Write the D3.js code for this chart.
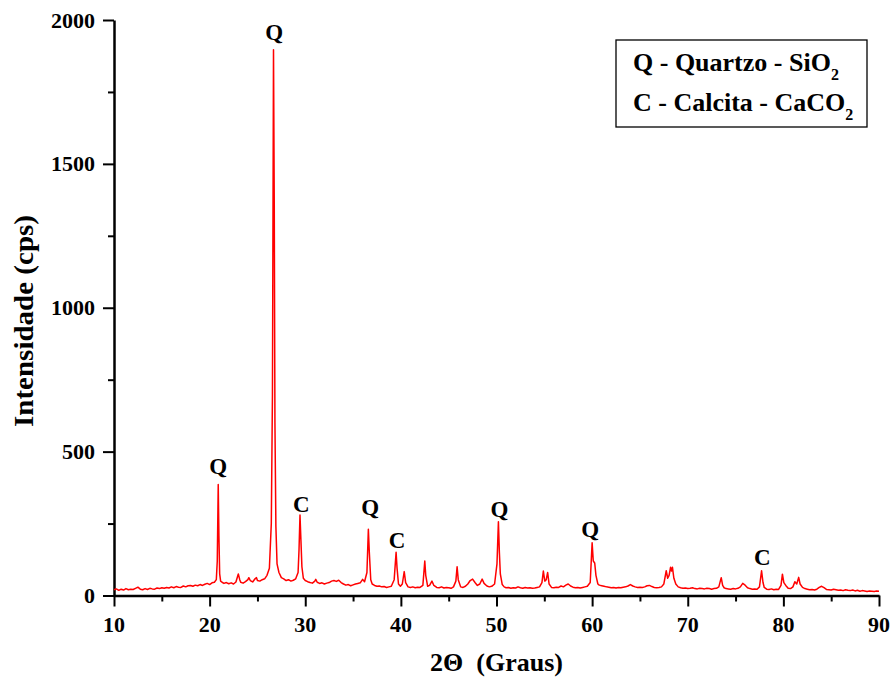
<!DOCTYPE html>
<html>
<head>
<meta charset="utf-8">
<script src="https://cdn.jsdelivr.net/npm/d3@7"></script>
</head>
<body style="margin:0">
<script>
// 2theta / intensity pairs
var pattern = [
 [10.00,20],[10.25,23],[10.5,18],[10.75,22],[11.0,19],[11.25,24],[11.5,20],[11.75,22],[12.0,21],[12.25,25],
 [12.5,29],[12.75,22],[13.0,20],[13.25,24],[13.5,21],[13.75,25],[14.0,23],[14.25,22],[14.5,26],[14.75,24],
 [15.0,27],[15.25,25],[15.5,28],[15.75,26],[16.0,30],[16.25,27],[16.5,31],[16.75,29],[17.0,28],[17.25,33],
 [17.5,30],[17.75,34],[18.0,35],[18.25,32],[18.5,36],[18.75,34],[19.0,38],[19.25,35],[19.5,39],[19.75,42],
 [20.0,38],[20.25,44],[20.5,46],[20.7,55],[20.8,120],[20.9,386],[20.97,210],[21.05,75],[21.15,50],[21.3,46],
 [21.5,42],[21.75,45],[22.0,41],[22.25,44],[22.5,40],[22.75,47],[23.0,75],[23.15,55],[23.25,46],[23.5,43],
 [23.75,48],[24.0,55],[24.1,62],[24.25,52],[24.5,47],[24.75,58],[24.9,62],[25.0,52],[25.25,50],[25.5,55],
 [25.75,58],[26.0,70],[26.25,95],[26.45,250],[26.57,700],[26.68,1897],[26.76,1350],[26.83,600],[26.93,240],[27.05,110],
 [27.25,80],[27.5,62],[27.75,58],[28.0,52],[28.25,55],[28.5,50],[28.75,53],[29.0,58],[29.25,80],[29.35,160],
 [29.45,280],[29.55,190],[29.65,100],[29.8,60],[30.0,52],[30.25,48],[30.5,45],[30.75,43],[31.0,50],[31.1,56],
 [31.25,46],[31.5,42],[31.75,44],[32.0,40],[32.25,43],[32.5,45],[32.75,50],[33.0,52],[33.25,49],[33.5,53],
 [33.75,45],[34.0,40],[34.25,36],[34.5,38],[34.75,34],[35.0,37],[35.25,40],[35.5,42],[35.75,44],[36.0,56],
 [36.2,48],[36.45,80],[36.6,230],[36.7,150],[36.85,55],[37.0,40],[37.25,35],[37.5,32],[37.75,33],[38.0,30],
 [38.25,31],[38.5,28],[38.75,30],[39.0,32],[39.3,55],[39.5,150],[39.6,95],[39.75,40],[39.95,32],[40.15,40],
 [40.35,83],[40.5,45],[40.75,30],[41.0,28],[41.25,30],[41.5,27],[41.75,29],[42.0,28],[42.3,35],[42.5,120],
 [42.6,70],[42.8,32],[43.0,35],[43.25,50],[43.45,35],[43.75,28],[44.0,27],[44.25,30],[44.5,26],[44.75,28],
 [45.0,27],[45.25,25],[45.5,30],[45.75,50],[45.88,100],[46.0,55],[46.25,30],[46.5,28],[46.75,32],[47.0,40],
 [47.25,52],[47.5,57],[47.75,45],[48.0,35],[48.25,40],[48.5,57],[48.7,42],[49.0,33],[49.25,30],[49.5,32],
 [49.8,40],[50.05,110],[50.2,256],[50.3,150],[50.4,75],[50.6,38],[50.8,30],[51.0,27],[51.25,28],[51.5,25],
 [51.75,27],[52.0,26],[52.25,30],[52.5,27],[52.75,25],[53.0,28],[53.25,26],[53.5,27],[53.75,25],[54.0,26],
 [54.25,28],[54.5,30],[54.75,45],[54.9,85],[55.05,50],[55.2,55],[55.35,80],[55.5,40],[55.75,28],[56.0,27],
 [56.25,29],[56.5,28],[56.75,33],[57.0,30],[57.25,36],[57.5,40],[57.75,33],[58.0,29],[58.25,27],[58.5,28],
 [58.75,26],[59.0,28],[59.25,30],[59.5,32],[59.8,45],[60.0,183],[60.12,120],[60.27,113],[60.4,70],[60.6,40],
 [60.75,36],[61.0,34],[61.25,32],[61.5,30],[61.75,29],[62.0,27],[62.25,28],[62.5,26],[62.75,28],[63.0,27],
 [63.25,29],[63.5,30],[63.75,33],[64.0,38],[64.25,33],[64.5,30],[64.75,28],[65.0,29],[65.25,28],[65.5,30],
 [65.75,34],[66.0,35],[66.25,31],[66.5,28],[66.75,27],[67.0,28],[67.25,30],[67.5,40],[67.75,86],[67.9,60],
 [68.05,70],[68.2,98],[68.3,85],[68.4,98],[68.55,60],[68.75,40],[69.0,30],[69.25,27],[69.5,25],[69.75,26],
 [70.0,24],[70.25,25],[70.5,27],[70.75,24],[71.0,23],[71.25,25],[71.5,24],[71.75,23],[72.0,25],[72.25,24],
 [72.5,22],[72.75,24],[73.0,25],[73.25,30],[73.5,62],[73.65,35],[73.8,27],[74.0,24],[74.25,23],[74.5,22],
 [74.75,24],[75.0,23],[75.25,25],[75.5,30],[75.75,42],[76.0,36],[76.25,27],[76.5,24],[76.75,22],[77.0,23],
 [77.25,22],[77.5,30],[77.72,86],[77.87,45],[78.0,28],[78.25,22],[78.5,21],[78.75,23],[79.0,20],[79.25,22],
 [79.5,21],[79.75,35],[79.9,74],[80.05,45],[80.25,35],[80.5,25],[80.75,24],[81.0,30],[81.2,48],[81.4,40],
 [81.6,63],[81.75,40],[82.0,28],[82.25,24],[82.5,22],[82.75,20],[83.0,21],[83.25,19],[83.5,22],[83.75,28],
 [84.0,32],[84.25,27],[84.5,21],[84.75,20],[85.0,19],[85.25,22],[85.5,20],[85.75,18],[86.0,19],[86.25,17],
 [86.5,20],[86.75,18],[87.0,17],[87.25,19],[87.5,16],[87.75,18],[88.0,15],[88.25,17],[88.5,16],[88.75,14],
 [89.0,16],[89.25,15],[89.5,14],[89.75,16],[90.0,15]
];

// phase labels above the peaks
var labelTheta = [20.9, 26.75, 29.6, 36.8, 39.6, 50.3, 59.8, 77.8];
var labelText  = ["Q", "Q", "C", "Q", "C", "Q", "Q", "C"];
var labelLevel = [422, 1930, 290, 280, 165, 273, 203, 106];

var xTicks = [10, 20, 30, 40, 50, 60, 70, 80, 90];
var yTicks = [0, 500, 1000, 1500, 2000];

var legendLines = [["Q - Quartzo - SiO", "2"], ["C - Calcita - CaCO", "2"]];

var W = 893, H = 682;
var margin = {top: 20, right: 14, bottom: 86.5, left: 114};

var svg = d3.select("body").append("svg")
    .attr("width", W)
    .attr("height", H);

var x = d3.scaleLinear().domain([10, 90]).range([margin.left, W - margin.right]);
var y = d3.scaleLinear().domain([0, 2000]).range([H - margin.bottom, margin.top]);

// plain serif text helper
function label(sel, size) {
  return sel.append("text")
    .attr("font-family", "Liberation Serif")
    .attr("font-weight", "bold")
    .attr("font-size", size);
}

// minor ticks
svg.append("g")
    .attr("transform", "translate(0," + y(0) + ")")
    .call(d3.axisBottom(x).tickValues(d3.range(15, 90, 10)).tickSize(6).tickFormat(""))
    .call(function(g) { g.select(".domain").remove(); g.selectAll("text").remove(); g.selectAll("line").attr("stroke-width", 2); });

svg.append("g")
    .attr("transform", "translate(" + x(10) + ",0)")
    .call(d3.axisLeft(y).tickValues(d3.range(250, 2000, 500)).tickSize(6).tickFormat(""))
    .call(function(g) { g.select(".domain").remove(); g.selectAll("text").remove(); g.selectAll("line").attr("stroke-width", 2); });

// major ticks and axis lines (labels drawn separately below)
var xAxis = svg.append("g")
    .attr("transform", "translate(0," + y(0) + ")")
    .call(d3.axisBottom(x).tickValues(xTicks).tickSize(11).tickSizeOuter(0));
var yAxis = svg.append("g")
    .attr("transform", "translate(" + x(10) + ",0)")
    .call(d3.axisLeft(y).tickValues(yTicks).tickSize(11).tickSizeOuter(0));

[xAxis, yAxis].forEach(function(g) {
  g.selectAll(".tick text").remove();
  g.select(".domain").attr("stroke-width", 2.5);
  g.selectAll(".tick line").attr("stroke-width", 2);
});

xTicks.forEach(function(t) {
  label(svg, 22).attr("x", x(t)).attr("y", 632).attr("text-anchor", "middle").text(t);
});
yTicks.forEach(function(t) {
  label(svg, 22).attr("x", x(10) - 19).attr("y", y(t) + 7.5).attr("text-anchor", "end").text(t);
});

// pattern
var line = d3.line()
    .x(function(d) { return x(d[0]); })
    .y(function(d) { return y(d[1]); });

svg.append("path")
    .datum(pattern)
    .attr("fill", "none")
    .attr("stroke", "#ff0000")
    .attr("stroke-width", 1.5)
    .attr("stroke-linejoin", "round")
    .attr("d", line);

// peak labels
labelTheta.forEach(function(t, i) {
  label(svg, 23).attr("x", x(t)).attr("y", y(labelLevel[i]))
    .attr("text-anchor", "middle").text(labelText[i]);
});

// axis titles
label(svg, 26)
    .attr("x", (x(10) + x(90)) / 2)
    .attr("y", 671)
    .attr("text-anchor", "middle")
    .text("2\u0398\u00a0\u00a0(Graus)");

label(svg, 27)
    .attr("transform", "translate(33,321) rotate(-90)")
    .attr("text-anchor", "middle")
    .attr("textLength", 212)
    .attr("lengthAdjust", "spacingAndGlyphs")
    .text("Intensidade (cps)");

// legend
var legend = svg.append("g").attr("transform", "translate(616,40)");
legend.append("rect")
    .attr("width", 251)
    .attr("height", 87)
    .attr("fill", "#fff")
    .attr("stroke", "#000")
    .attr("stroke-width", 1.3);

legendLines.forEach(function(d, i) {
  var t = label(legend, 26).attr("x", 17).attr("y", 31 + i * 40);
  t.append("tspan").text(d[0]);
  t.append("tspan").attr("dy", 9).attr("font-size", 16).text(d[1]);
});
</script>
</body>
</html>
